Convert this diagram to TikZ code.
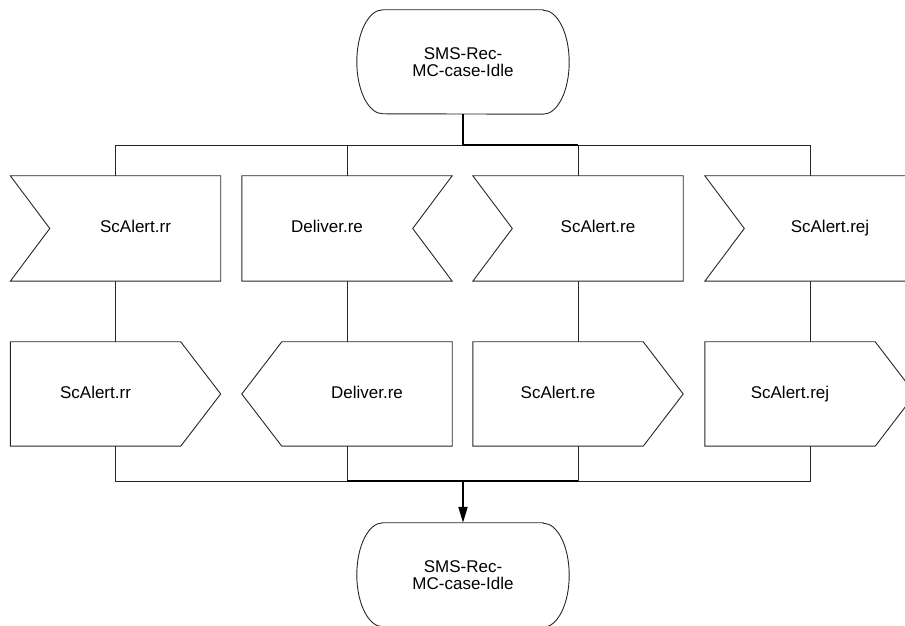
\documentclass[tikz,border=0pt]{standalone}
\usepackage{fontspec}
\setmainfont{Liberation Sans}
\usetikzlibrary{calc,arrows.meta}
\tikzset{
  x=1pt,y=1pt,
  thinline/.style={line width=0.9pt,black!85},
  boldline/.style={line width=2pt,black},
  outline/.style={line width=0.9pt,black!85,line join=miter},
  sigbox/.style={rectangle,minimum width=210pt,minimum height=105pt,inner sep=0pt},
  statebox/.style={rectangle,minimum width=212pt,minimum height=104pt,inner sep=0pt,align=center,font=\fontsize{17}{17.5}\selectfont},
  txt/.style={inner sep=0pt,text height=12.3pt,text depth=3.6pt,font=\fontsize{17}{17.5}\selectfont},
}
\begin{document}
\begin{tikzpicture}
\useasboundingbox (0,0) rectangle (905,626);
\clip (0,0) rectangle (905,626);
% state nodes
\node[statebox] (top) at (463,564) {SMS-Rec-\\MC-case-Idle};
\node[statebox] (bot) at (463,51) {SMS-Rec-\\MC-case-Idle};
\foreach \n in {top,bot}{
  \draw[outline] ($(\n.north east)-(26,0)$) -- ($(\n.north west)+(26,0)$)
    arc[start angle=90,end angle=270,x radius=26pt,y radius=52pt]
    -- ($(\n.south east)-(26,0)$)
    arc[start angle=-90,end angle=90,x radius=26pt,y radius=52pt] -- cycle;
}
% input signals (row 1)
\node[sigbox] (s1) at (115.5,397.5) {};
\node[sigbox] (s2) at (347,397.5) {};
\node[sigbox] (s3) at (578,397.5) {};
\node[sigbox] (s4) at (810,397.5) {};
\foreach \n in {s1,s3,s4}{
  \draw[outline] (\n.north west) -- (\n.north east) -- (\n.south east) -- (\n.south west) -- ($(\n.west)+(39.5,0)$) -- cycle;
}
\draw[outline] (s2.north west) -- (s2.north east) -- ($(s2.east)-(39.5,0)$) -- (s2.south east) -- (s2.south west) -- cycle;
\node[txt] (t1) at ($(s1.center)+(20,0)$) {ScAlert.rr};
\node[txt] (t2) at ($(s2.center)+(-20,0)$) {Deliver.re};
\node[txt] (t3) at ($(s3.center)+(20,0)$) {ScAlert.re};
\node[txt] (t4) at ($(s4.center)+(20,0)$) {ScAlert.rej};
% output signals (row 2)
\node[sigbox,minimum height=104pt] (o1) at (115.5,232) {};
\node[sigbox,minimum height=104pt] (o2) at (347,232) {};
\node[sigbox,minimum height=104pt] (o3) at (578,232) {};
\node[sigbox,minimum height=104pt] (o4) at (810,232) {};
\foreach \n in {o1,o3,o4}{
  \draw[outline] (\n.north west) -- ($(\n.north east)-(40,0)$) -- (\n.east) -- ($(\n.south east)-(40,0)$) -- (\n.south west) -- cycle;
}
\draw[outline] (o2.west) -- ($(o2.north west)+(40,0)$) -- (o2.north east) -- (o2.south east) -- ($(o2.south west)+(40,0)$) -- cycle;
\node[txt] (u1) at ($(o1.center)+(-20,0)$) {ScAlert.rr};
\node[txt] (u2) at ($(o2.center)+(20,0)$) {Deliver.re};
\node[txt] (u3) at ($(o3.center)+(-20,0)$) {ScAlert.re};
\node[txt] (u4) at ($(o4.center)+(-20,0)$) {ScAlert.rej};
% top bus
\coordinate (bT) at (463,481);
\foreach \n in {s1,s2,s3,s4}{ \draw[thinline] (\n.north) |- (bT); }
\draw[boldline] (top.south) -- (bT);
\draw[boldline] (bT) -- (s3.north |- bT);
% middle connectors
\draw[thinline] (s1.south) -- (o1.north);
\draw[thinline] (s2.south) -- (o2.north);
\draw[thinline] (s3.south) -- (o3.north);
\draw[thinline] (s4.south) -- (o4.north);
% bottom bus
\coordinate (bB) at (463,145);
\foreach \n in {o1,o2,o3,o4}{ \draw[thinline] (\n.south) |- (bB); }
\draw[boldline] (o2.south |- bB) -- (o3.south |- bB);
\draw[boldline,-{Triangle[length=16pt,width=9pt]}] (bB) -- (bot.north);
\end{tikzpicture}
\end{document}
